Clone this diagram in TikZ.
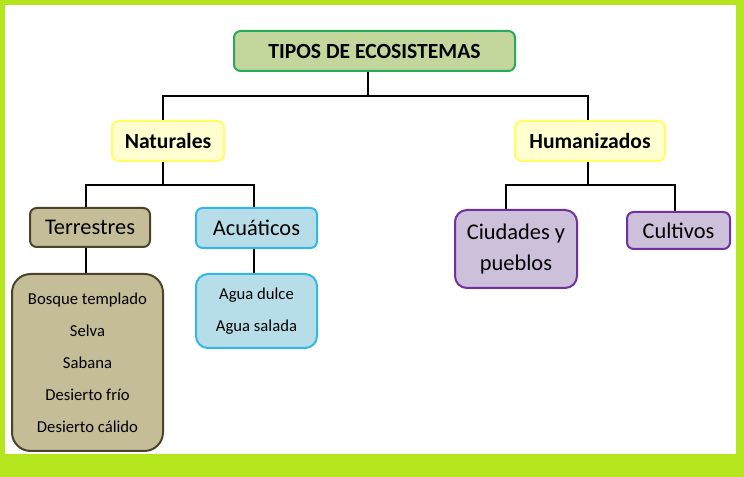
\documentclass[tikz,border=0pt]{standalone}
\usepackage{fontspec}
\setmainfont{Carlito}
\definecolor{frame}{RGB}{181,230,29}
\definecolor{titfill}{RGB}{195,214,155}
\definecolor{titdraw}{RGB}{40,170,90}
\definecolor{natfill}{RGB}{255,255,208}
\definecolor{natdraw}{RGB}{255,255,100}
\definecolor{terfill}{RGB}{196,189,151}
\definecolor{terdraw}{RGB}{74,69,42}
\definecolor{acufill}{RGB}{183,222,232}
\definecolor{acudraw}{RGB}{49,183,232}
\definecolor{humfill}{RGB}{204,192,218}
\definecolor{humdraw}{RGB}{112,48,160}
\tikzset{
  box/.style={rectangle, rounded corners=5pt, line width=1.5pt, inner sep=0pt, align=center},
  conn/.style={line width=1.5pt, black},
  big/.style={font=\fontsize{16.8}{23}\selectfont},
  list/.style={font=\fontsize{12.5}{24}\selectfont}
}
\begin{document}
\begin{tikzpicture}[x=0.75pt,y=-0.75pt]
\useasboundingbox (0,0) rectangle (744,477);
\fill[frame] (0,0) rectangle (744,477);
\fill[white] (5,5) rectangle (736,454);

\node[box, draw=titdraw, fill=titfill, minimum width=281*0.75pt, minimum height=40*0.75pt, font=\bfseries\fontsize{16.2}{19}\selectfont] (title) at (374.5,51) {TIPOS DE ECOSISTEMAS};

\node[box, draw=natdraw, fill=natfill, minimum width=112*0.75pt, minimum height=40*0.75pt, font=\bfseries\fontsize{16.2}{19}\selectfont] (nat) at (168,141) {Naturales};
\node[box, draw=natdraw, fill=natfill, minimum width=150*0.75pt, minimum height=40*0.75pt, font=\bfseries\fontsize{16.2}{19}\selectfont] (hum) at (590,141) {Humanizados};

\node[box, big, draw=terdraw, fill=terfill, minimum width=120*0.75pt, minimum height=39*0.75pt] (ter) at (90,227.5) {Terrestres};
\node[box, big, draw=acudraw, fill=acufill, minimum width=121*0.75pt, minimum height=40*0.75pt] (acu) at (256.5,228) {Acuáticos};

\node[box, list, rounded corners=14pt, draw=terdraw, fill=terfill, minimum width=151*0.75pt, minimum height=177*0.75pt] (terl) at (87.5,362.5) {Bosque templado\\Selva\\Sabana\\Desierto frío\\Desierto cálido};
\node[box, list, rounded corners=9pt, draw=acudraw, fill=acufill, minimum width=121*0.75pt, minimum height=74*0.75pt] (acul) at (256.5,311) {Agua dulce\\Agua salada};

\node[box, big, rounded corners=9pt, draw=humdraw, fill=humfill, minimum width=122*0.75pt, minimum height=78*0.75pt] (ciu) at (516,249) {Ciudades y\\pueblos};
\node[box, big, draw=humdraw, fill=humfill, minimum width=103*0.75pt, minimum height=37*0.75pt] (cul) at (678.5,230.5) {Cultivos};

\coordinate (b1M) at (368,96);
\coordinate (b1L) at (163,96);
\coordinate (b1R) at (588,96);
\coordinate (b2M) at (163,185);
\coordinate (b2L) at (86,185);
\coordinate (b2R) at (254,185);
\coordinate (b3M) at (588,185);
\coordinate (b3L) at (506,185);
\coordinate (b3R) at (675,185);
\coordinate (t1) at (86,0);
\coordinate (t2) at (254,0);

\draw[conn] (b1M |- title.south) -- (b1M);
\draw[conn] (b1L |- nat.north) -- (b1L) -- (b1R) -- (b1R |- hum.north);
\draw[conn] (b2M |- nat.south) -- (b2M);
\draw[conn] (b2L |- ter.north) -- (b2L) -- (b2R) -- (b2R |- acu.north);
\draw[conn] (b3M |- hum.south) -- (b3M);
\draw[conn] (b3L |- ciu.north) -- (b3L) -- (b3R) -- (b3R |- cul.north);
\draw[conn] (t1 |- ter.south) -- (t1 |- terl.north);
\draw[conn] (t2 |- acu.south) -- (t2 |- acul.north);
\end{tikzpicture}
\end{document}
